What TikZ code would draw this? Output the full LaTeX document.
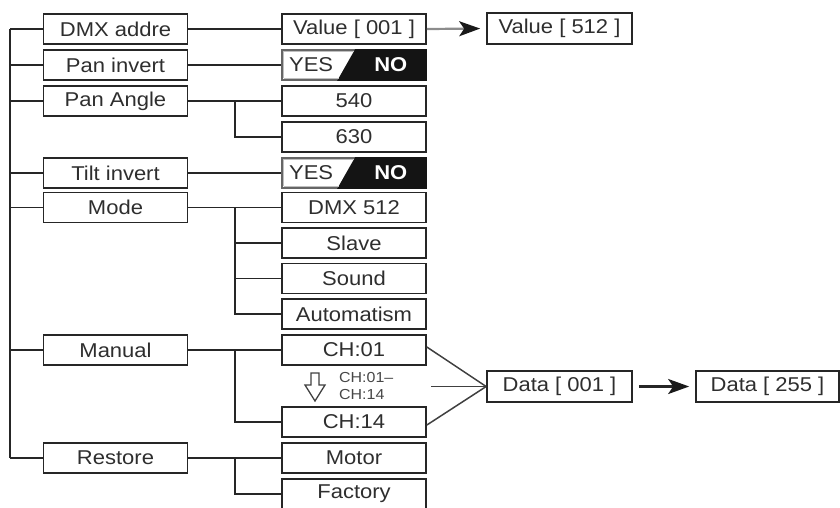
\documentclass[tikz,border=0pt]{standalone}
\usepackage{fontspec}
\setmainfont{Liberation Sans}[FakeStretch=1.1]
\usetikzlibrary{arrows.meta,calc}
\begin{document}
\begin{tikzpicture}[x=1pt,y=-1pt,
  every node/.style={text=black!82},
  box/.style={draw=black!85,line width=1.7pt,minimum width=144pt,minimum height=30pt,inner sep=0pt,
    font=\fontsize{20}{20}\selectfont},
  conn/.style={draw=black!85,line width=1.8pt},
  arr/.style={draw=black!45,line width=2.2pt,-{Stealth[length=21pt,width=15pt,inset=5pt,color=black!90]}},
  ynbox/.style={box,draw=black!60}
]
\useasboundingbox (0,0) rectangle (840,507);
% left column
\node[box] (dmx) at (115.5,29) {DMX addre};
\node[box] (pinv) at (115.5,65) {Pan invert};
\node[box] (pang) at (115.5,101) {Pan Angle};
\node[box] (tinv) at (115.5,173) {Tilt invert};
\node[box] (mode) at (115.5,207.5) {Mode};
\node[box] (man) at (115.5,350) {Manual};
\node[box] (rest) at (115.5,458) {Restore};
% right column
\node[box] (v1) at (354,29) {Value [ 001 ]};
\node[ynbox] (yn1) at (354,65) {};
\node[box] (a540) at (354,101) {540};
\node[box] (a630) at (354,137) {630};
\node[ynbox] (yn2) at (354,173) {};
\node[box] (m1) at (354,207.5) {DMX 512};
\node[box] (m2) at (354,243) {Slave};
\node[box] (m3) at (354,278.5) {Sound};
\node[box] (m4) at (354,314) {Automatism};
\node[box] (ch1) at (354,350) {CH:01};
\node[box] (ch14) at (354,422) {CH:14};
\node[box] (mot) at (354,458) {Motor};
\node[box] (fac) at (354,494) {Factory};
% far right
\node[box,minimum width=145pt,minimum height=31pt] (v2) at (559.5,28.5) {Value [ 512 ]};
\node[box,minimum width=145pt,minimum height=31pt] (d1) at (559.5,386.5) {Data [ 001 ]};
\node[box,minimum width=143pt,minimum height=31pt] (d2) at (767.5,386.5) {Data [ 255 ]};
% YES/NO boxes
\foreach \b in {yn1,yn2}{
  \fill[black!92] ($(\b.south west)+(56,0)$) -- ($(\b.north west)+(74,0)$) -- (\b.north east) -- (\b.south east) -- cycle;
  \draw[black!25,line width=0.8pt] ($(\b.south west)+(2.5,-2.5)$) -- ($(\b.south west)+(57.5,-2.5)$)
     ($(\b.south west)+(2.5,-2.5)$) -- ($(\b.north west)+(2.5,2.5)$) -- ($(\b.north west)+(72,2.5)$);
  \node[font=\fontsize{20}{20}\selectfont,text=black!82] (\b yes) at ($(\b.west)+(30,0)$) {YES};
  \node[font=\bfseries\fontsize{20}{20}\selectfont,text=white] (\b no) at ($(\b.east)+(-36,0)$) {NO};
}
% trunk
\coordinate (tt) at (10,29);
\coordinate (tb) at (10,458);
\draw[conn] (tt) -- (tb);
\foreach \n in {dmx,pinv,pang,tinv,mode,man,rest}{
  \draw[conn] (\n.west) -- (10,0 |- \n.west);
}
% direct links
\draw[conn] (dmx.east) -- (v1.west);
\draw[conn] (pinv.east) -- (yn1.west);
\draw[conn] (tinv.east) -- (yn2.west);
% branching links
\draw[conn] (pang.east) -- (a540.west);
\draw[conn] (235,0 |- a540.west) -- (235,0 |- a630.west) -- (a630.west);
\draw[conn] (mode.east) -- (m1.west);
\draw[conn] (235,0 |- m1.west) -- (235,0 |- m4.west) -- (m4.west);
\draw[conn] (235,0 |- m2.west) -- (m2.west);
\draw[conn] (235,0 |- m3.west) -- (m3.west);
\draw[conn] (man.east) -- (ch1.west);
\draw[conn] (235,0 |- ch1.west) -- (235,0 |- ch14.west) -- (ch14.west);
\draw[conn] (rest.east) -- (mot.west);
\draw[conn] (235,0 |- mot.west) -- (235,0 |- fac.west) -- (fac.west);
% converging to Data
\coordinate (mid) at (431,386.5);
\draw[draw=black!75,line width=1.5pt] ($(ch1.east)+(0,-3)$) -- (d1.west);
\draw[draw=black!75,line width=1.5pt] ($(ch14.east)+(0,3)$) -- (d1.west);
\draw[draw=black!75,line width=1.5pt] (mid) -- (d1.west);
% hollow arrow and range text
\draw[black!75,line width=1.3pt,fill=white] (311,373) -- (319,373) -- (319,385) -- (325,385) -- (315,401) -- (305,385) -- (311,385) -- cycle;
\node[anchor=west,align=left,inner sep=0pt,font=\fontsize{14.5}{17}\selectfont,text=black!72] (rng) at (339,386) {CH:01–\\CH:14};
% arrows
\draw[arr,shorten >=6pt] (v1.east) -- (v2.west);
\draw[arr,draw=black!85,shorten >=6pt,shorten <=6pt] (d1.east) -- (d2.west);
\end{tikzpicture}
\end{document}
